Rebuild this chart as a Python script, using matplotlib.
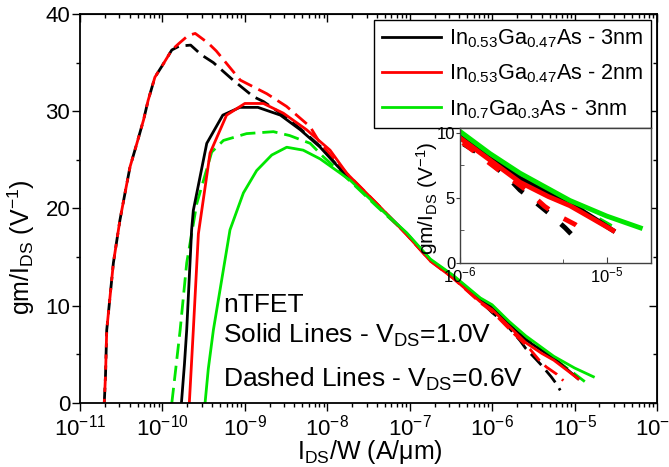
import matplotlib
matplotlib.use('Agg')
import matplotlib.pyplot as plt
from matplotlib.ticker import MultipleLocator, FixedLocator, NullFormatter, LogLocator

plt.rcParams['font.family'] = ['Liberation Sans', 'DejaVu Sans']
plt.rcParams['mathtext.fontset'] = 'custom'
plt.rcParams['mathtext.rm'] = 'Liberation Sans'
plt.rcParams['mathtext.it'] = 'Liberation Sans:italic'
plt.rcParams['mathtext.bf'] = 'Liberation Sans:bold'
plt.rcParams['mathtext.default'] = 'regular'

# ---- data (I_DS/W in A/um, gm/I_DS in 1/V) ----
# In0.53Ga0.47As 3nm, VDS=1.0V (solid black)
bs_x = [1.70e-10, 1.85e-10, 1.97e-10, 2.26e-10, 2.37e-10, 3.45e-10, 5.4e-10, 8.7e-10, 1.44e-9,
        2.7e-9, 4.7e-9, 8.2e-9, 1.73e-8, 4e-8, 9.2e-8, 1.78e-7, 3.4e-7, 7.2e-7, 1.0e-6,
        1.6e-6, 2.56e-6, 4.0e-6, 5.6e-6, 8.0e-6, 1.1e-5]
bs_y = [0, 4.0, 7.5, 17.8, 19.8, 26.7, 29.6, 30.4, 30.4,
        29.6, 28.1, 26.3, 23.3, 20.4, 17.4, 14.7, 13.0, 10.6, 9.85,
        8.1, 6.5, 5.4, 4.6, 3.5, 2.5]
# In0.53Ga0.47As 2nm, VDS=1.0V (solid red)
rs_x = [2.12e-10, 2.25e-10, 2.37e-10, 2.73e-10, 3.78e-10, 6.0e-10, 1.0e-9, 1.68e-9, 2.93e-9,
        5.6e-9, 1.08e-8, 1.73e-8, 4e-8, 9.2e-8, 1.78e-7, 3.4e-7, 7.2e-7, 1.0e-6,
        1.6e-6, 2.56e-6, 4.0e-6, 5.6e-6, 8.0e-6, 1.1e-5]
rs_y = [0, 4.0, 7.5, 17.4, 25.7, 29.6, 30.8, 30.8, 29.8,
        28.1, 26.0, 23.6, 20.5, 17.3, 14.6, 12.8, 10.4, 9.6,
        7.9, 6.2, 5.1, 4.4, 3.4, 2.5]
# In0.7Ga0.3As 3nm, VDS=1.0V (solid green)
gs_x = [3.29e-10, 3.6e-10, 4.15e-10, 6.6e-10, 9.6e-10, 1.39e-9, 2.12e-9, 3.22e-9, 5.1e-9,
        8.2e-9, 1.9e-8, 4e-8, 9.2e-8, 1.78e-7, 3.4e-7, 7.2e-7, 1.0e-6, 1.6e-6,
        2.56e-6, 5.6e-6, 1.0e-5, 1.69e-5]
gs_y = [0, 3.5, 7.5, 17.8, 21.6, 23.9, 25.5, 26.3, 26.0,
        25.1, 22.9, 20.3, 17.5, 14.8, 13.1, 10.8, 10.1, 8.4,
        6.9, 4.8, 3.6, 2.7]
# In0.53Ga0.47As 3nm, VDS=0.6V (dashed black)
bd_x = [1.97e-11, 2.04e-11, 2.11e-11, 2.54e-11, 3.05e-11, 3.5e-11, 4.05e-11, 4.9e-11, 5.9e-11,
        6.7e-11, 8.1e-11, 9.8e-11, 1.3e-10, 1.6e-10, 2.2e-10, 2.97e-10, 4.15e-10, 7.2e-10,
        1.27e-9, 1.68e-9, 2.7e-9, 4.7e-9, 8.2e-9, 1.73e-8, 4e-8, 9.2e-8, 1.78e-7, 3.4e-7,
        7.2e-7, 1.0e-6, 1.44e-6, 2.19e-6, 2.56e-6, 3.4e-6, 4.0e-6, 5.2e-6, 6.1e-6, 6.7e-6]
bd_y = [0, 2.9, 7.5, 14.4, 18.8, 21.5, 24.3, 26.7, 29.1,
        31.1, 33.5, 34.6, 36.3, 36.7, 36.8, 35.8, 35.0, 33.2,
        31.5, 31.0, 29.8, 28.2, 26.4, 23.3, 20.4, 17.4, 14.7, 13.0,
        10.5, 9.3, 8.2, 6.4, 5.6, 4.5, 3.85, 2.7, 1.9, 1.3]
# In0.53Ga0.47As 2nm, VDS=0.6V (dashed red)
rd_x = [1.97e-11, 2.04e-11, 2.11e-11, 2.54e-11, 3.05e-11, 3.5e-11, 4.05e-11, 4.9e-11, 5.9e-11,
        6.7e-11, 8.1e-11, 9.8e-11, 1.3e-10, 1.6e-10, 2.06e-10, 2.5e-10, 3.6e-10, 4.5e-10,
        8.8e-10, 1.85e-9, 3.2e-9, 6.2e-9, 8.2e-9, 1.73e-8, 4e-8, 9.2e-8, 1.78e-7, 3.4e-7,
        7.2e-7, 1.0e-6, 1.47e-6, 1.8e-6, 2.43e-6, 2.9e-6, 3.77e-6, 4.55e-6, 6.1e-6, 7.3e-6]
rd_y = [0, 2.9, 7.5, 14.4, 18.8, 21.5, 24.3, 26.7, 29.1,
        31.1, 33.5, 34.6, 36.3, 37.0, 37.8, 38.0, 37.0, 36.2,
        33.2, 31.8, 30.5, 28.4, 26.7, 23.6, 20.5, 17.3, 14.6, 12.8,
        10.3, 9.4, 7.95, 7.2, 6.15, 5.5, 4.35, 3.7, 2.95, 2.3]
# In0.7Ga0.3As 3nm, VDS=0.6V (dashed green)
gd_x = [1.30e-10, 1.45e-10, 1.64e-10, 1.97e-10, 2.61e-10, 3.96e-10, 5.5e-10, 1.05e-9, 2.22e-9,
        3.5e-9, 6.2e-9, 9.0e-9, 1.9e-8, 4e-8, 9.2e-8, 1.78e-7, 3.4e-7, 7.2e-7,
        1.0e-6, 2.56e-6, 5.6e-6, 1.0e-5, 1.33e-5]
gd_y = [0, 3.5, 7.5, 14.4, 20.5, 25.8, 27.0, 27.7, 27.9,
        27.5, 26.7, 25.3, 22.8, 20.2, 17.4, 14.7, 13.0, 10.7,
        9.9, 6.7, 4.6, 3.0, 2.2]

labels = [r'In$_{0.53}$Ga$_{0.47}$As - 3nm',
          r'In$_{0.53}$Ga$_{0.47}$As - 2nm',
          r'In$_{0.7}$Ga$_{0.3}$As - 3nm']
black, red, green = 'black', '#ff0000', '#00e600'

fig = plt.figure(figsize=(6.69, 4.67), dpi=100)
ax = fig.add_axes([80 / 669, 64 / 467, 577 / 669, 389 / 467])


def draw(a, lw, dash, red_off):
    a.plot(bd_x, bd_y, color=black, lw=lw, linestyle=(0, dash))
    a.plot(rd_x, rd_y, color=red, lw=lw, linestyle=(red_off, dash))
    a.plot(gd_x, gd_y, color=green, lw=lw, linestyle=(0, dash))
    l1, = a.plot(bs_x, bs_y, color=black, lw=lw)
    l2, = a.plot(rs_x, rs_y, color=red, lw=lw)
    l3, = a.plot(gs_x, gs_y, color=green, lw=lw)
    return [l1, l2, l3]


handles = draw(ax, 2.0, (5.5, 2.5), 4)
ax.set_xscale('log')
ax.set_xlim(1e-11, 1e-4)
ax.set_ylim(0, 40)
ax.yaxis.set_major_locator(MultipleLocator(10))
ax.yaxis.set_minor_locator(MultipleLocator(5))
ax.xaxis.set_major_locator(LogLocator(base=10, numticks=12))
ax.tick_params(which='both', direction='out', top=False, right=False, labelsize=16, width=1)
ax.tick_params(which='major', length=6)
ax.tick_params(which='minor', length=3)
ax.tick_params(axis='x', pad=2)
ax.tick_params(axis='y', pad=1)
for s in ax.spines.values():
    s.set_linewidth(1.3)

# mirrored ticks on top / right point inward
secx = ax.secondary_xaxis('top')
secx.tick_params(which='both', direction='in', width=1)
secx.tick_params(which='major', length=6)
secx.tick_params(which='minor', length=3)
secx.xaxis.set_major_formatter(NullFormatter())
secx.xaxis.set_minor_formatter(NullFormatter())
secy = ax.secondary_yaxis('right')
secy.yaxis.set_major_locator(MultipleLocator(10))
secy.yaxis.set_minor_locator(MultipleLocator(5))
secy.tick_params(which='both', direction='in', width=1)
secy.tick_params(which='major', length=6)
secy.tick_params(which='minor', length=3)
secy.yaxis.set_major_formatter(NullFormatter())

ax.set_xlabel(r'I$_{DS}$/W (A/μm)', fontsize=18)
ax.set_ylabel(r'gm/I$_{DS}$ (V$^{-1}$)', fontsize=18)
ax.xaxis.set_label_coords(0.503, -0.09)
ax.yaxis.set_label_coords(-0.075, 0.40)

ax.text(0.248, 0.234, 'nTFET', transform=ax.transAxes, fontsize=19, va='baseline')
ax.text(0.248, 0.154, r'Solid Lines - V$_{DS}$=1.0V', transform=ax.transAxes, fontsize=19, va='baseline')
ax.text(0.248, 0.041, r'Dashed Lines - V$_{DS}$=0.6V', transform=ax.transAxes, fontsize=19, va='baseline')

leg = ax.legend(handles, labels, loc='upper right', bbox_to_anchor=(0.9896, 0.9846),
                borderaxespad=0, fontsize=15.6, handlelength=2.75, handletextpad=0.35,
                borderpad=0.35, labelspacing=0.58, fancybox=False, framealpha=1,
                edgecolor='black')
leg.get_frame().set_linewidth(1.0)

# inset
axi = fig.add_axes([460 / 669, (467 - 263) / 467, 191 / 669, 135.5 / 467])
draw(axi, 3.5, (2.9, 3.6), 0.5)
axi.set_xscale('log')
axi.set_xlim(1e-6, 2e-5)
axi.set_ylim(0, 10.4)
axi.xaxis.set_major_locator(FixedLocator([1e-6, 1e-5]))
axi.xaxis.set_minor_locator(FixedLocator([5e-6]))
axi.xaxis.set_minor_formatter(NullFormatter())
axi.yaxis.set_major_locator(FixedLocator([0, 5, 10]))
axi.yaxis.set_minor_locator(FixedLocator([2.5, 7.5]))
axi.tick_params(axis='x', which='both', direction='in', labelsize=12, pad=2, colors='#404040',
                labelcolor='black')
axi.tick_params(axis='y', which='major', direction='out', length=3, labelsize=12, pad=0.5,
                colors='#404040', labelcolor='black')
axi.tick_params(axis='y', which='minor', direction='in', length=3, colors='#404040')
axi.tick_params(axis='x', which='major', length=4)
axi.tick_params(axis='x', which='minor', length=3)
for s in axi.spines.values():
    s.set_color('#404040')
    s.set_linewidth(1.0)
axi.set_ylabel(r'gm/I$_{DS}$ (V$^{-1}$)', fontsize=15)
axi.yaxis.set_label_coords(-0.105, 0.48)

fig.savefig('out.png', dpi=100)
